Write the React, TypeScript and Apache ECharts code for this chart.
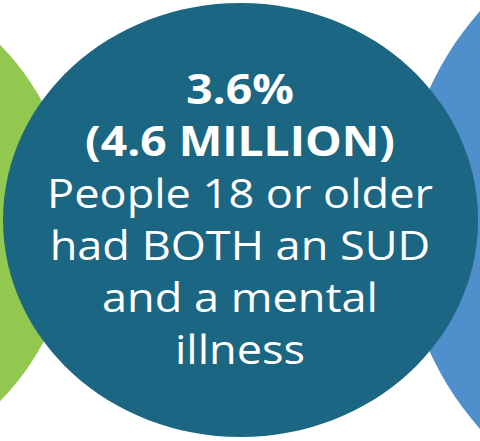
import React, { useEffect, useRef } from "react";
import * as echarts from "echarts";

// Figures and texts shown in the chart
const headlineValues = ["3.6%", "(4.6 MILLION)"];
const descriptionLines = ["People 18 or older", "had BOTH an SUD", "and a mental", "illness"];
const circleNames = ["SUD", "Both", "Mental illness"];
const circleColors = ["#92c84f", "#1b6682", "#4e8fcc"];

export default function App() {
  const ref = useRef<HTMLDivElement>(null);

  useEffect(() => {
    document.body.style.margin = "0";
    const chart = echarts.init(ref.current!, null, { renderer: "svg" });
    const font = "'Open Sans', 'Noto Sans', sans-serif";
    const lineH = 52;
    const startY = 88;
    const stretch = 1.1;
    const textEls: any[] = [];
    headlineValues.forEach((t, i) => {
      textEls.push({
        type: "text",
        x: 240,
        y: startY + i * lineH,
        scaleX: stretch,
        style: {
          text: t,
          fill: "#ffffff",
          font: `bold 42px ${font}`,
          textAlign: "center",
          textVerticalAlign: "middle",
        },
        z: 10,
      });
    });
    descriptionLines.forEach((t, i) => {
      textEls.push({
        type: "text",
        x: 240,
        y: startY + (i + 2) * lineH,
        scaleX: stretch,
        style: {
          text: t,
          fill: "#ffffff",
          font: `normal 41px ${font}`,
          textAlign: "center",
          textVerticalAlign: "middle",
        },
        z: 10,
      });
    });

    chart.setOption({
      animation: false,
      graphic: [
        {
          type: "ellipse",
          id: circleNames[0],
          shape: { cx: -181, cy: 223, rx: 254, ry: 254 },
          style: { fill: circleColors[0] },
          z: 1,
        },
        {
          type: "ellipse",
          id: circleNames[2],
          shape: { cx: 717, cy: 220, rx: 316, ry: 316 },
          style: { fill: circleColors[2] },
          z: 1,
        },
        {
          type: "ellipse",
          id: circleNames[1],
          shape: { cx: 240.5, cy: 220, rx: 237.5, ry: 217 },
          style: { fill: circleColors[1] },
          z: 2,
        },
        ...textEls,
      ],
    });
    return () => chart.dispose();
  }, []);

  return <div ref={ref} style={{ width: 480, height: 441 }} />;
}
